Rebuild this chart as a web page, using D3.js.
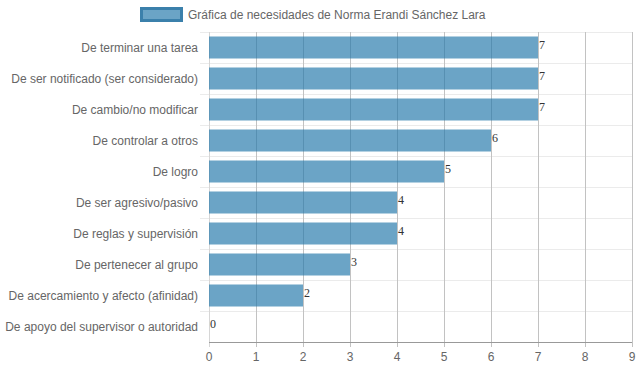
<!DOCTYPE html>
<html>
<head>
<meta charset="utf-8">
<script src="https://cdn.jsdelivr.net/npm/d3@7"></script>
<style>
  body { margin: 0; background: #fff; }
  svg { display: block; font-family: "Liberation Sans", Arial, sans-serif; }
</style>
</head>
<body>
<div id="chart"></div>
<script>
const seriesName = "Gráfica de necesidades de Norma Erandi Sánchez Lara";
const categories = [
    "De terminar una tarea",
    "De ser notificado (ser considerado)",
    "De cambio/no modificar",
    "De controlar a otros",
    "De logro",
    "De ser agresivo/pasivo",
    "De reglas y supervisión",
    "De pertenecer al grupo",
    "De acercamiento y afecto (afinidad)",
    "De apoyo del supervisor o autoridad"
];
const values = [7, 7, 7, 6, 5, 4, 4, 3, 2, 0];
const xTicks = [0, 1, 2, 3, 4, 5, 6, 7, 8, 9];

const width = 639, height = 372;
const margin = { top: 32, right: 7, bottom: 30, left: 209 };

const svg = d3.select("#chart").append("svg")
    .attr("width", width)
    .attr("height", height);

const x = d3.scaleLinear()
    .domain([0, 9])
    .range([margin.left, width - margin.right]);

const y = d3.scaleBand()
    .domain(categories)
    .range([margin.top, height - margin.bottom])
    .paddingInner(0.29)
    .paddingOuter(0.145);

// horizontal grid (between categories)
const step = y.step();
const bounds = d3.range(categories.length + 1).map(i => margin.top + i * step);
svg.append("g")
    .selectAll("line")
    .data(bounds.slice(0, -1))
    .join("line")
    .attr("x1", margin.left - 9)
    .attr("x2", width - margin.right)
    .attr("y1", d => Math.round(d) + 0.5)
    .attr("y2", d => Math.round(d) + 0.5)
    .attr("stroke", "#ebebeb");

// vertical grid
svg.append("g")
    .selectAll("line")
    .data(xTicks)
    .join("line")
    .attr("x1", d => Math.round(x(d)) + 0.5)
    .attr("x2", d => Math.round(x(d)) + 0.5)
    .attr("y1", margin.top)
    .attr("y2", height - margin.bottom + 5)
    .attr("stroke", d => d === 0 ? "#d6d6d6" : "#c2c2c2");

// bottom axis line
svg.append("line")
    .attr("x1", margin.left)
    .attr("x2", width - margin.right)
    .attr("y1", height - margin.bottom + 0.5)
    .attr("y2", height - margin.bottom + 0.5)
    .attr("stroke", "#999");

// bars
svg.append("g")
    .selectAll("rect")
    .data(values)
    .join("rect")
    .attr("x", x(0))
    .attr("y", (d, i) => y(categories[i]))
    .attr("width", d => x(d) - x(0))
    .attr("height", y.bandwidth())
    .attr("fill", "rgba(35,120,170,0.67)");

// value labels
svg.append("g")
    .selectAll("text")
    .data(values)
    .join("text")
    .attr("x", d => x(d) + 1)
    .attr("y", (d, i) => y(categories[i]) + y.bandwidth() / 2 + 1)
    .attr("font-family", "'Liberation Serif', 'Times New Roman', serif")
    .attr("font-size", 12)
    .attr("fill", "#333")
    .text(d => d);

// category labels
svg.append("g")
    .selectAll("text")
    .data(categories)
    .join("text")
    .attr("x", margin.left - 11)
    .attr("y", d => y(d) + y.bandwidth() / 2)
    .attr("dy", "0.35em")
    .attr("text-anchor", "end")
    .attr("font-size", 12)
    .attr("fill", "#666")
    .text(d => d);

// x tick labels
svg.append("g")
    .selectAll("text")
    .data(xTicks)
    .join("text")
    .attr("x", d => x(d))
    .attr("y", height - margin.bottom + 15)
    .attr("dy", "0.35em")
    .attr("text-anchor", "middle")
    .attr("font-size", 12)
    .attr("fill", "#666")
    .text(d => d);

// legend
const legend = svg.append("g");
legend.append("rect")
    .attr("x", 141.5)
    .attr("y", 8.5)
    .attr("width", 40)
    .attr("height", 12)
    .attr("fill", "rgba(35,120,170,0.67)")
    .attr("stroke", "#3b80ab")
    .attr("stroke-width", 3);
legend.append("text")
    .attr("x", 188)
    .attr("y", 15)
    .attr("dy", "0.35em")
    .attr("font-size", 12)
    .attr("fill", "#666")
    .text(seriesName);
</script>
</body>
</html>
